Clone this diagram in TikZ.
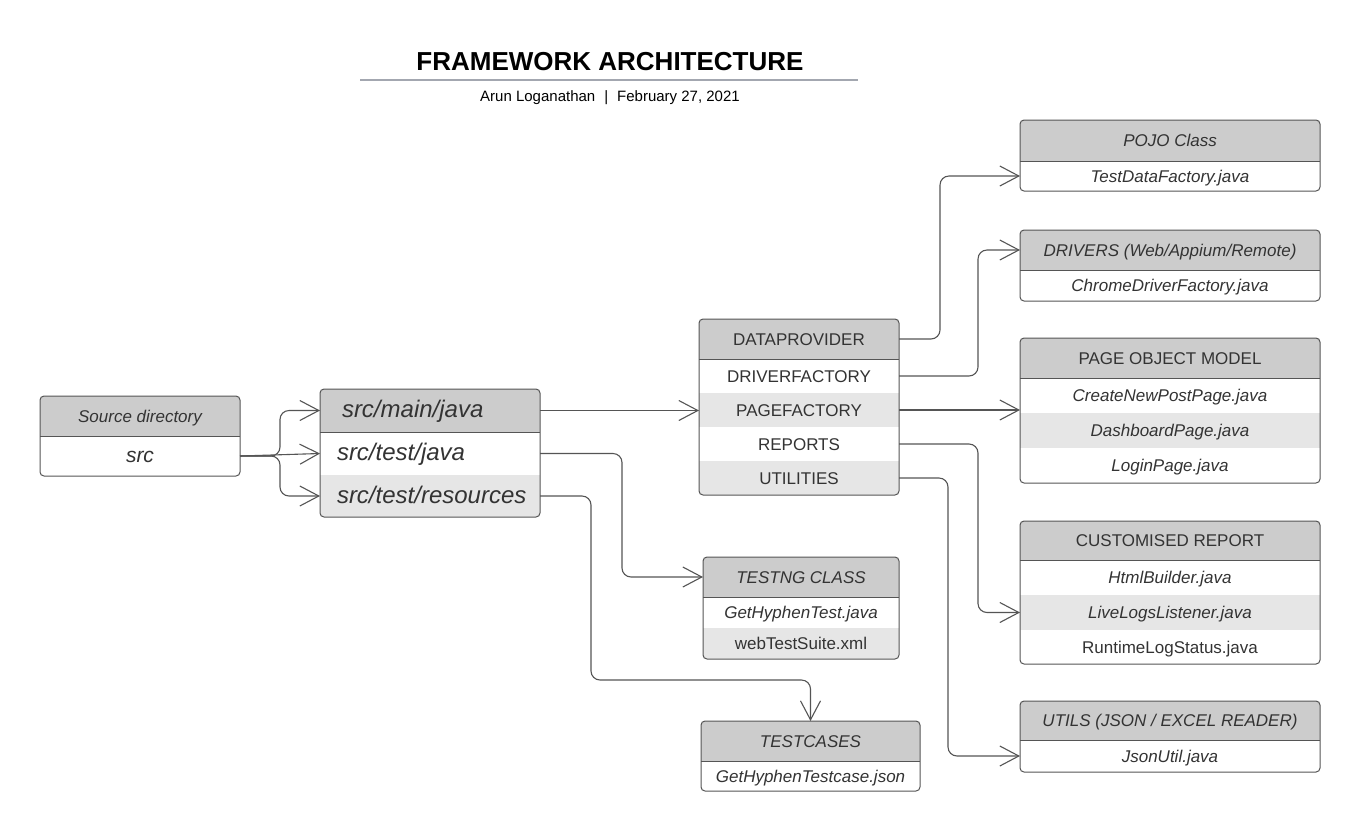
\documentclass[tikz,border=0pt]{standalone}
\usepackage{fontspec}
\setmainfont{Liberation Sans}
\usetikzlibrary{arrows.meta,backgrounds,calc}
\definecolor{hdr}{HTML}{CCCCCC}
\definecolor{alt}{HTML}{E6E6E6}
\definecolor{txt}{HTML}{333333}
\definecolor{edgec}{HTML}{555555}
\definecolor{rulec}{HTML}{A3A7B0}
\tikzset{
  cell/.style 2 args={rectangle, minimum width=#1pt, minimum height=#2pt,
    inner sep=0pt, outer sep=0pt, text=txt, text height=12.2pt, text depth=0pt,
    font=\fontsize{17}{20}\selectfont},
  it/.style={font=\fontsize{17}{20}\selectfont\itshape},
  big/.style={font=\fontsize{24}{28}\selectfont\itshape, text width=#1pt, align=left, text height=14.5pt},
  frame/.style={draw=edgec, line width=1pt, rounded corners=4pt},
  divider/.style={draw=edgec, line width=1pt},
  conn/.style={draw=edgec, line width=1.1pt, rounded corners=9pt,
    -{Straight Barb[length=19pt,width=20pt]}},
}
\begin{document}
\begin{tikzpicture}[x=1pt,y=-1pt]
\useasboundingbox (0,0) rectangle (1360,831);

% ---------- title ----------
\node[font=\fontsize{26}{30}\selectfont\bfseries, text height=18.7pt, text depth=0pt, inner sep=0pt] (title) at (610,61) {FRAMEWORK ARCHITECTURE};
\coordinate (ruleL) at (360,80);
\coordinate (ruleR) at (858,80);
\draw[draw=rulec, line width=1.6pt] (ruleL) -- (ruleR);
\node[font=\fontsize{15}{18}\selectfont, text height=10.8pt, text depth=0pt, inner sep=0pt] (subtitle) at (610,96) {Arun Loganathan\hspace{0.6em}|\hspace{0.6em}February 27, 2021};

% ---------- Source directory ----------
\node[cell={200}{40}, it] (srcH) at (140,416) {Source directory};
\node[cell={200}{40}, font=\fontsize{21}{24}\selectfont\itshape, text height=13pt] (srcR) at (140,456) {src};

% ---------- src folders ----------
\node[cell={220}{43}, big=220] (mainR) at (430,410.5) {\hspace*{22pt}src/main/java};
\node[cell={220}{43}, big=220] (testR) at (430,453.5) {\hspace*{17pt}src/test/java};
\node[cell={220}{42}, big=220] (resR) at (430,496) {\hspace*{17pt}src/test/resources};

% ---------- DATAPROVIDER ----------
\node[cell={200}{40}] (dpH) at (799,339) {DATAPROVIDER};
\node[cell={200}{34}] (drvR) at (799,376) {DRIVERFACTORY};
\node[cell={200}{34}] (pfR) at (799,410) {PAGEFACTORY};
\node[cell={200}{34}] (repR) at (799,444) {REPORTS};
\node[cell={200}{34}] (utilR) at (799,478) {UTILITIES};

% ---------- TESTNG CLASS ----------
\node[cell={196}{40}, it] (tngH) at (801,577) {TESTNG CLASS};
\node[cell={196}{31}, it] (tngR1) at (801,612.5) {GetHyphenTest.java};
\node[cell={196}{31}] (tngR2) at (801,643.5) {webTestSuite.xml};

% ---------- TESTCASES ----------
\node[cell={219}{40}, it] (tcH) at (810.5,741) {TESTCASES};
\node[cell={219}{30}, it] (tcR) at (810.5,776) {GetHyphenTestcase.json};

% ---------- POJO ----------
\node[cell={300}{41}, it] (pojoH) at (1170,140.5) {POJO Class};
\node[cell={300}{30}, it] (pojoR) at (1170,176) {TestDataFactory.java};

% ---------- DRIVERS ----------
\node[cell={300}{40}, it] (drvH) at (1170,250) {DRIVERS (Web/Appium/Remote)};
\node[cell={300}{31}, it] (drvB) at (1170,285.5) {ChromeDriverFactory.java};

% ---------- PAGE OBJECT MODEL ----------
\node[cell={300}{40}] (pomH) at (1170,358) {PAGE OBJECT MODEL};
\node[cell={300}{35}, it] (pomR1) at (1170,395.5) {CreateNewPostPage.java};
\node[cell={300}{35}, it] (pomR2) at (1170,430.5) {DashboardPage.java};
\node[cell={300}{35}, it] (pomR3) at (1170,465.5) {LoginPage.java};

% ---------- CUSTOMISED REPORT ----------
\node[cell={300}{39}] (crH) at (1170,540.5) {CUSTOMISED REPORT};
\node[cell={300}{35}, it] (crR1) at (1170,577.5) {HtmlBuilder.java};
\node[cell={300}{35}, it] (crR2) at (1170,612.5) {LiveLogsListener.java};
\node[cell={300}{34}] (crR3) at (1170,647) {RuntimeLogStatus.java};

% ---------- UTILS ----------
\node[cell={300}{39}, it] (utH) at (1170,720.5) {UTILS (JSON / EXCEL READER)};
\node[cell={300}{32}, it] (utR) at (1170,756) {JsonUtil.java};

% ---------- fills (background) ----------
\begin{scope}[on background layer]
  \fill[white] (0,0) rectangle (1360,831);
  \begin{scope}
    \clip[rounded corners=4pt] (srcH.north west) rectangle (srcR.south east);
    \fill[hdr] (srcH.north west) rectangle (srcH.south east);
  \end{scope}
  \begin{scope}
    \clip[rounded corners=4pt] (mainR.north west) rectangle (resR.south east);
    \fill[hdr] (mainR.north west) rectangle (mainR.south east);
    \fill[alt] (resR.north west) rectangle (resR.south east);
  \end{scope}
  \begin{scope}
    \clip[rounded corners=4pt] (dpH.north west) rectangle (utilR.south east);
    \fill[hdr] (dpH.north west) rectangle (dpH.south east);
    \fill[alt] (pfR.north west) rectangle (pfR.south east);
    \fill[alt] (utilR.north west) rectangle (utilR.south east);
  \end{scope}
  \begin{scope}
    \clip[rounded corners=4pt] (tngH.north west) rectangle (tngR2.south east);
    \fill[hdr] (tngH.north west) rectangle (tngH.south east);
    \fill[alt] (tngR2.north west) rectangle (tngR2.south east);
  \end{scope}
  \begin{scope}
    \clip[rounded corners=4pt] (tcH.north west) rectangle (tcR.south east);
    \fill[hdr] (tcH.north west) rectangle (tcH.south east);
  \end{scope}
  \begin{scope}
    \clip[rounded corners=4pt] (pojoH.north west) rectangle (pojoR.south east);
    \fill[hdr] (pojoH.north west) rectangle (pojoH.south east);
  \end{scope}
  \begin{scope}
    \clip[rounded corners=4pt] (drvH.north west) rectangle (drvB.south east);
    \fill[hdr] (drvH.north west) rectangle (drvH.south east);
  \end{scope}
  \begin{scope}
    \clip[rounded corners=4pt] (pomH.north west) rectangle (pomR3.south east);
    \fill[hdr] (pomH.north west) rectangle (pomH.south east);
    \fill[alt] (pomR2.north west) rectangle (pomR2.south east);
  \end{scope}
  \begin{scope}
    \clip[rounded corners=4pt] (crH.north west) rectangle (crR3.south east);
    \fill[hdr] (crH.north west) rectangle (crH.south east);
    \fill[alt] (crR2.north west) rectangle (crR2.south east);
  \end{scope}
  \begin{scope}
    \clip[rounded corners=4pt] (utH.north west) rectangle (utR.south east);
    \fill[hdr] (utH.north west) rectangle (utH.south east);
  \end{scope}
\end{scope}

% ---------- frames and header dividers ----------
\draw[frame] (srcH.north west) rectangle (srcR.south east);
\draw[divider] (srcH.south west) -- (srcH.south east);
\draw[frame] (mainR.north west) rectangle (resR.south east);
\draw[divider] (mainR.south west) -- (mainR.south east);
\draw[frame] (dpH.north west) rectangle (utilR.south east);
\draw[divider] (dpH.south west) -- (dpH.south east);
\draw[frame] (tngH.north west) rectangle (tngR2.south east);
\draw[divider] (tngH.south west) -- (tngH.south east);
\draw[frame] (tcH.north west) rectangle (tcR.south east);
\draw[divider] (tcH.south west) -- (tcH.south east);
\draw[frame] (pojoH.north west) rectangle (pojoR.south east);
\draw[divider] (pojoH.south west) -- (pojoH.south east);
\draw[frame] (drvH.north west) rectangle (drvB.south east);
\draw[divider] (drvH.south west) -- (drvH.south east);
\draw[frame] (pomH.north west) rectangle (pomR3.south east);
\draw[divider] (pomH.south west) -- (pomH.south east);
\draw[frame] (crH.north west) rectangle (crR3.south east);
\draw[divider] (crH.south west) -- (crH.south east);
\draw[frame] (utH.north west) rectangle (utR.south east);
\draw[divider] (utH.south west) -- (utH.south east);

% ---------- connectors ----------
\coordinate (fork) at (280,456);
\coordinate (bendA) at (622,500);
\coordinate (bendB) at (591,680);
\coordinate (bendC) at (940,300);
\coordinate (bendD) at (978,300);
\coordinate (bendE) at (948,600);

\draw[conn] (srcR.east) -- (fork) |- (mainR.west);
\draw[conn] (srcR.east) -- (testR.west);
\draw[conn] (srcR.east) -- (fork) |- (resR.west);

\draw[conn] (mainR.east) -- (mainR.east -| dpH.west);
\draw[conn] (testR.east) -- (testR.east -| bendA) |- (tngH.west);
\draw[conn] (resR.east) -| (bendB) -| (tcH.north);

\draw[conn] (dpH.east) -- (dpH.east -| bendC) |- (pojoR.west);
\draw[conn] (drvR.east) -- (drvR.east -| bendD) |- (drvH.west);
\draw[conn] (pfR.east) -- (pfR.east -| pomH.west);
\draw[conn] (repR.east) -- (repR.east -| bendD) |- (crR2.west);
\draw[conn] (utilR.east) -- (utilR.east -| bendE) |- (utR.west);
\end{tikzpicture}
\end{document}
